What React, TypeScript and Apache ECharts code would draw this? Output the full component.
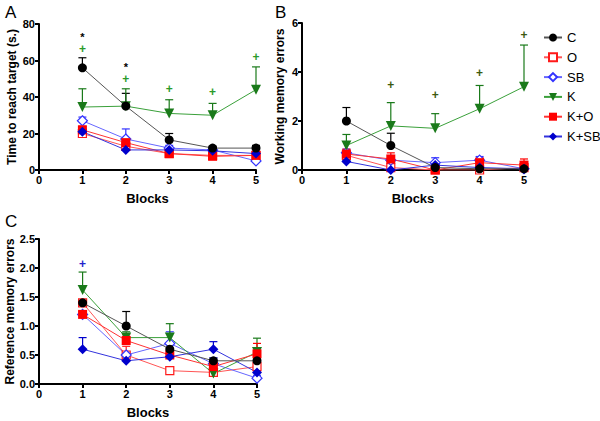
import React, { useEffect, useRef } from "react";
import * as echarts from "echarts";

const blocks = [1, 2, 3, 4, 5];
const groups = ["C", "O", "SB", "K", "K+O", "K+SB"];

// Panel A: time to reach target (s.)
const aC = [56, 35, 16.5, 12, 12];
const aCErr = [5.5, 7, 3.5, 1, 1.5];
const aO = [20, 13, 9, 8, 8];
const aOErr = [2, 2, 1, 1, 1];
const aSB = [27, 17, 12, 11, 5];
const aSBErr = [2, 5.5, 1.5, 1, 1];
const aK = [34.5, 35, 31, 30, 44];
const aKErr = [10, 9.5, 7.5, 6.5, 12.5];
const aKO = [22, 15, 9, 7.5, 8];
const aKOErr = [2, 2, 1, 1, 1];
const aKSB = [21, 11, 11, 10.5, 9];
const aKSBErr = [1.5, 1.5, 1, 1, 1];
const aStars = [[1, 73], [2, 56.5]];
const aPlus = [[1, 66.5], [2, 50], [3, 44.5], [4, 43], [5, 62]];

// Panel B: working memory errors
const bC = [2.0, 1.0, 0.1, 0.05, 0.05];
const bCErr = [0.55, 0.5, 0.05, 0.02, 0.02];
const bO = [0.6, 0.1, 0, 0, 0.1];
const bOErr = [0.1, 0.05, 0, 0, 0.05];
const bSB = [0.7, 0.4, 0.3, 0.4, 0.05];
const bSBErr = [0.15, 0.1, 0.2, 0.15, 0.05];
const bK = [1.0, 1.8, 1.7, 2.5, 3.4];
const bKErr = [0.45, 0.95, 0.6, 0.95, 1.7];
const bKO = [0.65, 0.45, 0.0, 0.3, 0.2];
const bKOErr = [0.2, 0.25, 0.05, 0.2, 0.25];
const bKSB = [0.35, 0.0, 0.2, 0.1, 0.05];
const bKSBErr = [0.05, 0, 0.05, 0.05, 0.02];
const bPlus = [[2, 3.45], [3, 3.05], [4, 3.95], [5, 5.5]];

// Panel C: reference memory errors
const cC = [1.4, 1.0, 0.6, 0.4, 0.4];
const cCErr = [0.05, 0.25, 0.1, 0.05, 0.05];
const cO = [1.4, 0.5, 0.23, 0.2, 0.3];
const cOErr = [0.05, 0.15, 0.05, 0.05, 0.05];
const cSB = [1.2, 0.5, 0.7, 0.35, 0.1];
const cSBErr = [0.05, 0.05, 0.2, 0.1, 0.05];
const cK = [1.62, 0.8, 0.8, 0.18, 0.55];
const cKErr = [0.31, 0.1, 0.24, 0.05, 0.24];
const cKO = [1.2, 0.75, 0.5, 0.3, 0.52];
const cKOErr = [0.05, 0.1, 0.05, 0.05, 0.18];
const cKSB = [0.6, 0.4, 0.47, 0.6, 0.2];
const cKSBErr = [0.2, 0.05, 0.05, 0.13, 0.05];
const cPlus = [[1, 2.07]];

const styles: Record<string, any> = {
  C: { symbol: "circle", size: 9, color: "#000", line: "#555", open: false, rotate: 0, z: 4 },
  O: { symbol: "rect", size: 8, color: "#ff1a1a", line: "#ff5555", open: true, rotate: 0, z: 3 },
  SB: { symbol: "diamond", size: 10, color: "#3333ff", line: "#6666ff", open: true, rotate: 0, z: 3 },
  K: { symbol: "triangle", size: 10, color: "#1a7a1a", line: "#3aa03a", open: false, rotate: 180, z: 3 },
  "K+O": { symbol: "rect", size: 9, color: "#ff0000", line: "#ff3333", open: false, rotate: 0, z: 3 },
  "K+SB": { symbol: "diamond", size: 10, color: "#0000cc", line: "#3333dd", open: false, rotate: 0, z: 3 },
};

const font = "Liberation Sans, Arial, sans-serif";

function lineSeries(name: string, vals: number[], gi: number) {
  const s = styles[name];
  return {
    type: "line",
    name,
    xAxisIndex: gi,
    yAxisIndex: gi,
    data: blocks.map((b, i) => [b, vals[i]]),
    symbol: s.symbol,
    symbolSize: s.size,
    symbolRotate: s.rotate,
    showAllSymbol: true,
    lineStyle: { color: s.line, width: 1 },
    itemStyle: s.open
      ? { color: "#fff", borderColor: s.color, borderWidth: 1.2 }
      : { color: s.color, borderColor: s.color, borderWidth: 0 },
    z: s.z,
  };
}

function errSeries(name: string, vals: number[], errs: number[], gi: number) {
  const color = styles[name].color;
  return {
    type: "custom",
    name: name + " err",
    xAxisIndex: gi,
    yAxisIndex: gi,
    data: blocks.map((b, i) => [b, vals[i], errs[i]]),
    z: 2,
    renderItem: (params: any, api: any) => {
      const x = api.value(0);
      const y = api.value(1);
      const e = api.value(2);
      const p0 = api.coord([x, y]);
      const p1 = api.coord([x, y + e]);
      return {
        type: "group",
        children: [
          { type: "line", shape: { x1: p0[0], y1: p0[1], x2: p1[0], y2: p1[1] }, style: { stroke: color, lineWidth: 1.2 } },
          { type: "line", shape: { x1: p1[0] - 4, y1: p1[1], x2: p1[0] + 4, y2: p1[1] }, style: { stroke: color, lineWidth: 1.2 } },
        ],
      };
    },
  };
}

function markSeries(pts: number[][], text: string, color: string, gi: number, size: number) {
  return {
    type: "custom",
    name: "mark" + text + gi + color,
    xAxisIndex: gi,
    yAxisIndex: gi,
    data: pts,
    z: 5,
    renderItem: (params: any, api: any) => {
      const p = api.coord([api.value(0), api.value(1)]);
      return {
        type: "text",
        x: p[0],
        y: p[1],
        style: {
          text,
          fill: color,
          fontSize: size,
          fontWeight: "bold",
          fontFamily: font,
          align: "center",
          verticalAlign: "middle",
        },
      };
    },
  };
}

function panelSeries(gi: number, data: [string, number[], number[]][]) {
  const out: any[] = [];
  data.forEach(([n, v, e]) => out.push(errSeries(n, v, e, gi)));
  data.forEach(([n, v]) => out.push(lineSeries(n, v, gi)));
  return out;
}

function xAxis(gi: number) {
  return {
    type: "value",
    gridIndex: gi,
    min: 0,
    max: 5,
    interval: 1,
    name: "Blocks",
    nameLocation: "middle",
    nameGap: 22,
    nameTextStyle: { fontFamily: font, fontWeight: "bold", fontSize: 13, color: "#000" },
    axisLine: { lineStyle: { color: "#000", width: 2 } },
    axisTick: { show: true, length: 4, lineStyle: { color: "#000", width: 2 } },
    axisLabel: { fontFamily: font, fontWeight: "bold", fontSize: 11, color: "#000", margin: 4 },
    splitLine: { show: false },
  };
}

function yAxis(gi: number, name: string, max: number, interval: number, gap: number, dec: number) {
  return {
    type: "value",
    gridIndex: gi,
    min: 0,
    max,
    interval,
    name,
    nameLocation: "middle",
    nameGap: gap,
    nameTextStyle: { fontFamily: font, fontWeight: "bold", fontSize: 12, color: "#000" },
    axisLine: { show: true, lineStyle: { color: "#000", width: 2 } },
    axisTick: { show: true, length: 4, lineStyle: { color: "#000", width: 2 } },
    axisLabel: {
      fontFamily: font,
      fontWeight: "bold",
      fontSize: 11,
      color: "#000",
      margin: 4,
      formatter: (v: number) => v.toFixed(dec),
    },
    splitLine: { show: false },
  };
}

export default function App() {
  const ref = useRef<HTMLDivElement>(null);
  useEffect(() => {
    if (!ref.current) return;
    const chart = echarts.init(ref.current, null, { renderer: "svg" });
    const series: any[] = [
      ...panelSeries(0, [
        ["C", aC, aCErr], ["O", aO, aOErr], ["SB", aSB, aSBErr],
        ["K", aK, aKErr], ["K+O", aKO, aKOErr], ["K+SB", aKSB, aKSBErr],
      ]),
      ...panelSeries(1, [
        ["C", bC, bCErr], ["O", bO, bOErr], ["SB", bSB, bSBErr],
        ["K", bK, bKErr], ["K+O", bKO, bKOErr], ["K+SB", bKSB, bKSBErr],
      ]),
      ...panelSeries(2, [
        ["C", cC, cCErr], ["O", cO, cOErr], ["SB", cSB, cSBErr],
        ["K", cK, cKErr], ["K+O", cKO, cKOErr], ["K+SB", cKSB, cKSBErr],
      ]),
      markSeries(aStars, "*", "#000", 0, 11),
      markSeries(aPlus, "+", "#2a9a2a", 0, 12),
      markSeries(bPlus, "+", "#3d5a10", 1, 12),
      markSeries(cPlus, "+", "#2222cc", 2, 12),
    ];
    chart.setOption({
      animation: false,
      backgroundColor: "#fff",
      grid: [
        { left: 39, top: 24, width: 217, height: 146 },
        { left: 302, top: 23, width: 222, height: 147 },
        { left: 39, top: 239, width: 218, height: 145 },
      ],
      xAxis: [xAxis(0), xAxis(1), xAxis(2)],
      yAxis: [
        yAxis(0, "Time to reach target (s.)", 80, 20, 21, 0),
        yAxis(1, "Working memory errors", 6, 2, 16, 0),
        yAxis(2, "Reference memory errors", 2.5, 0.5, 22, 1),
      ],
      legend: {
        data: groups,
        orient: "vertical",
        left: 538,
        top: 26,
        width: 60,
        itemWidth: 18,
        itemHeight: 10,
        itemGap: 6.8,
        textStyle: { fontFamily: font, fontSize: 13, color: "#000" },
      },
      graphic: [
        { type: "text", left: 5, top: 4, style: { text: "A", fontFamily: font, fontSize: 17, fill: "#000" } },
        { type: "text", left: 275, top: 4, style: { text: "B", fontFamily: font, fontSize: 17, fill: "#000" } },
        { type: "text", left: 5, top: 213, style: { text: "C", fontFamily: font, fontSize: 17, fill: "#000" } },
      ],
      series,
    });
    return () => chart.dispose();
  }, []);
  return <div ref={ref} style={{ position: "absolute", left: 0, top: 0, width: 600, height: 421 }} />;
}
